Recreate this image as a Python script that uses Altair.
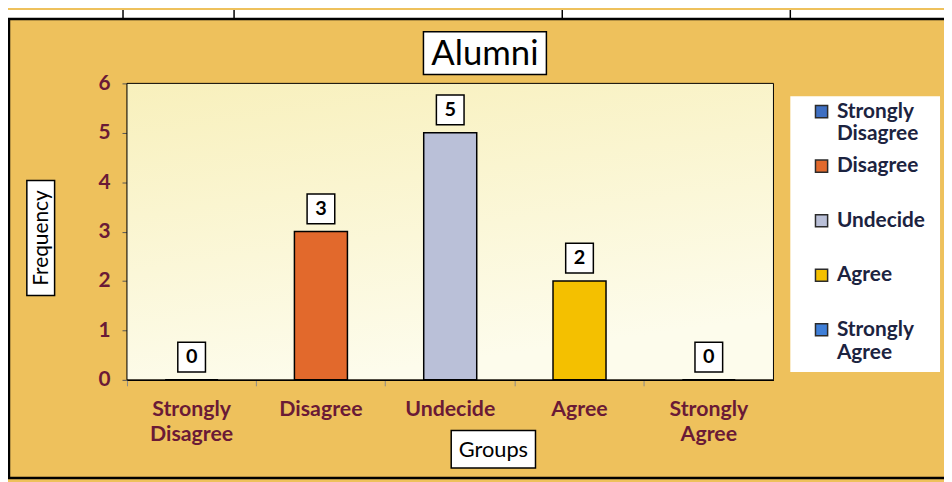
import altair as alt
import pandas as pd

# ---- data ----
categories = ["Strongly Disagree", "Disagree", "Undecide", "Agree", "Strongly Agree"]
frequencies = [0, 3, 5, 2, 0]
bar_colors = ["#3E6FC2", "#E2692C", "#BAC0D8", "#F4C000", "#3F7FD8"]
y_ticks = [0, 1, 2, 3, 4, 5, 6]
chart_title = "Alumni"
x_title = "Groups"
y_title = "Frequency"

df = pd.DataFrame({"Group": categories, "Frequency": frequencies})
one = pd.DataFrame({"k": [0]})

W, H = 652, 299
FONT = "Lato"
MAROON = "#6A1A36"

x_enc = alt.X(
    "Group:N", sort=categories,
    scale=alt.Scale(domain=categories, paddingInner=0, paddingOuter=0),
    axis=alt.Axis(title=None, labelExpr="split(datum.label, ' ')", labelAngle=0,
                  labelFont=FONT, labelFontWeight="bold", labelFontSize=21.5,
                  labelColor=MAROON, labelPadding=13, labelLineHeight=25,
                  labelBaseline="top", bandPosition=0, tickColor="#8a8a8a",
                  tickSize=6, domainColor="black", domainWidth=1.2),
)
y_enc = alt.Y(
    "Frequency:Q",
    scale=alt.Scale(domain=[0, 6], nice=False),
    axis=alt.Axis(title=None, values=y_ticks, grid=False, labelFont=FONT,
                  labelFontWeight="bold", labelFontSize=21, labelColor=MAROON,
                  labelPadding=12, tickSize=5, tickColor="#555555",
                  domainColor="black", domainWidth=1.2),
)


def rect(x1, x2, y1, y2, **kw):
    return alt.Chart(one).mark_rect(**kw).encode(
        x=alt.value(x1), x2=alt.value(x2), y=alt.value(y1), y2=alt.value(y2))


def label(txt, xv, yv, **kw):
    return alt.Chart(one).mark_text(text=txt, font=FONT, color="black", **kw).encode(
        x=alt.value(xv), y=alt.value(yv))


plot_bg = rect(0, W, 0, H, fill=alt.Gradient(
    gradient="linear", x1=0, y1=0, x2=0.3, y2=1,
    stops=[alt.GradientStop(color="#F8F0BC", offset=0),
           alt.GradientStop(color="#FDFCEC", offset=1)]))
top_strip = rect(-120, 830, -74, -65, fill="white")
strip_lines = [
    alt.Chart(one).mark_rule(color="black", strokeWidth=1.5).encode(
        x=alt.value(xv), y=alt.value(-74), y2=alt.value(-65))
    for xv in (-4, 108, 439, 669)
]
legend_box = rect(669, 820, 13, 291, fill="white")

bars = alt.Chart(df).mark_bar(
    width=alt.RelativeBandSize(0.41), stroke="black", strokeWidth=1.5
).encode(
    x=x_enc, y=y_enc,
    color=alt.Color(
        "Group:N", sort=categories,
        scale=alt.Scale(domain=categories, range=bar_colors),
        legend=alt.Legend(
            title=None, orient="none", legendX=690, legendY=18,
            symbolType="square", symbolSize=150, symbolStrokeColor="#2b2b2b",
            symbolStrokeWidth=1.5, labelFont=FONT, labelFontWeight="bold",
            labelFontSize=21, labelColor="#1C2340", gridAlign="all",
            labelExpr="split(datum.label, ' ')", rowPadding=10,
            labelOffset=5, padding=0, labelLimit=200),
    ),
)

val_boxes = alt.Chart(df).mark_point(
    shape="M-0.93,-1H0.93V1H-0.93Z", size=900, filled=True, fill="white",
    stroke="black", strokeWidth=1.5, opacity=1, yOffset=-23
).encode(x=alt.X("Group:N", sort=categories), y="Frequency:Q")

val_text = alt.Chart(df).mark_text(
    yOffset=-23, font=FONT, fontWeight="bold", fontSize=20, color="black",
    baseline="middle"
).encode(x=alt.X("Group:N", sort=categories), y="Frequency:Q", text="Frequency:Q")

plot_border = rect(0, W, 0, H, fill="transparent", stroke="black", strokeWidth=1)

title_box = rect(299, 423, -52, -9, fill="white", stroke="black", strokeWidth=1.5)
title_txt = label(chart_title, 361, -30, fontSize=35, baseline="middle")
ytitle_box = rect(-101, -73, 98, 214, fill="white", stroke="black", strokeWidth=1.5)
ytitle_txt = label(y_title, -86, 156, fontSize=21, angle=270, baseline="middle")
xtitle_box = rect(327, 412, 350, 388, fill="white", stroke="black", strokeWidth=1.5)
xtitle_txt = label(x_title, 369.5, 370, fontSize=22, baseline="middle")
border = rect(-119, 830, -65, 398, fill="transparent", stroke="black", strokeWidth=2.5)

chart = alt.layer(
    top_strip, *strip_lines, plot_bg, legend_box, bars, val_boxes, val_text,
    plot_border, title_box, title_txt, ytitle_box, ytitle_txt,
    xtitle_box, xtitle_txt, border,
).properties(
    width=W, height=H,
    autosize=alt.AutoSizeParams(type="none"),
    padding={"left": 120, "top": 74, "right": 172, "bottom": 101},
).configure(
    background="#EEC15C",
).configure_view(
    stroke=None,
)

chart.save("out.html", embed_options={"renderer": "svg", "actions": False})
